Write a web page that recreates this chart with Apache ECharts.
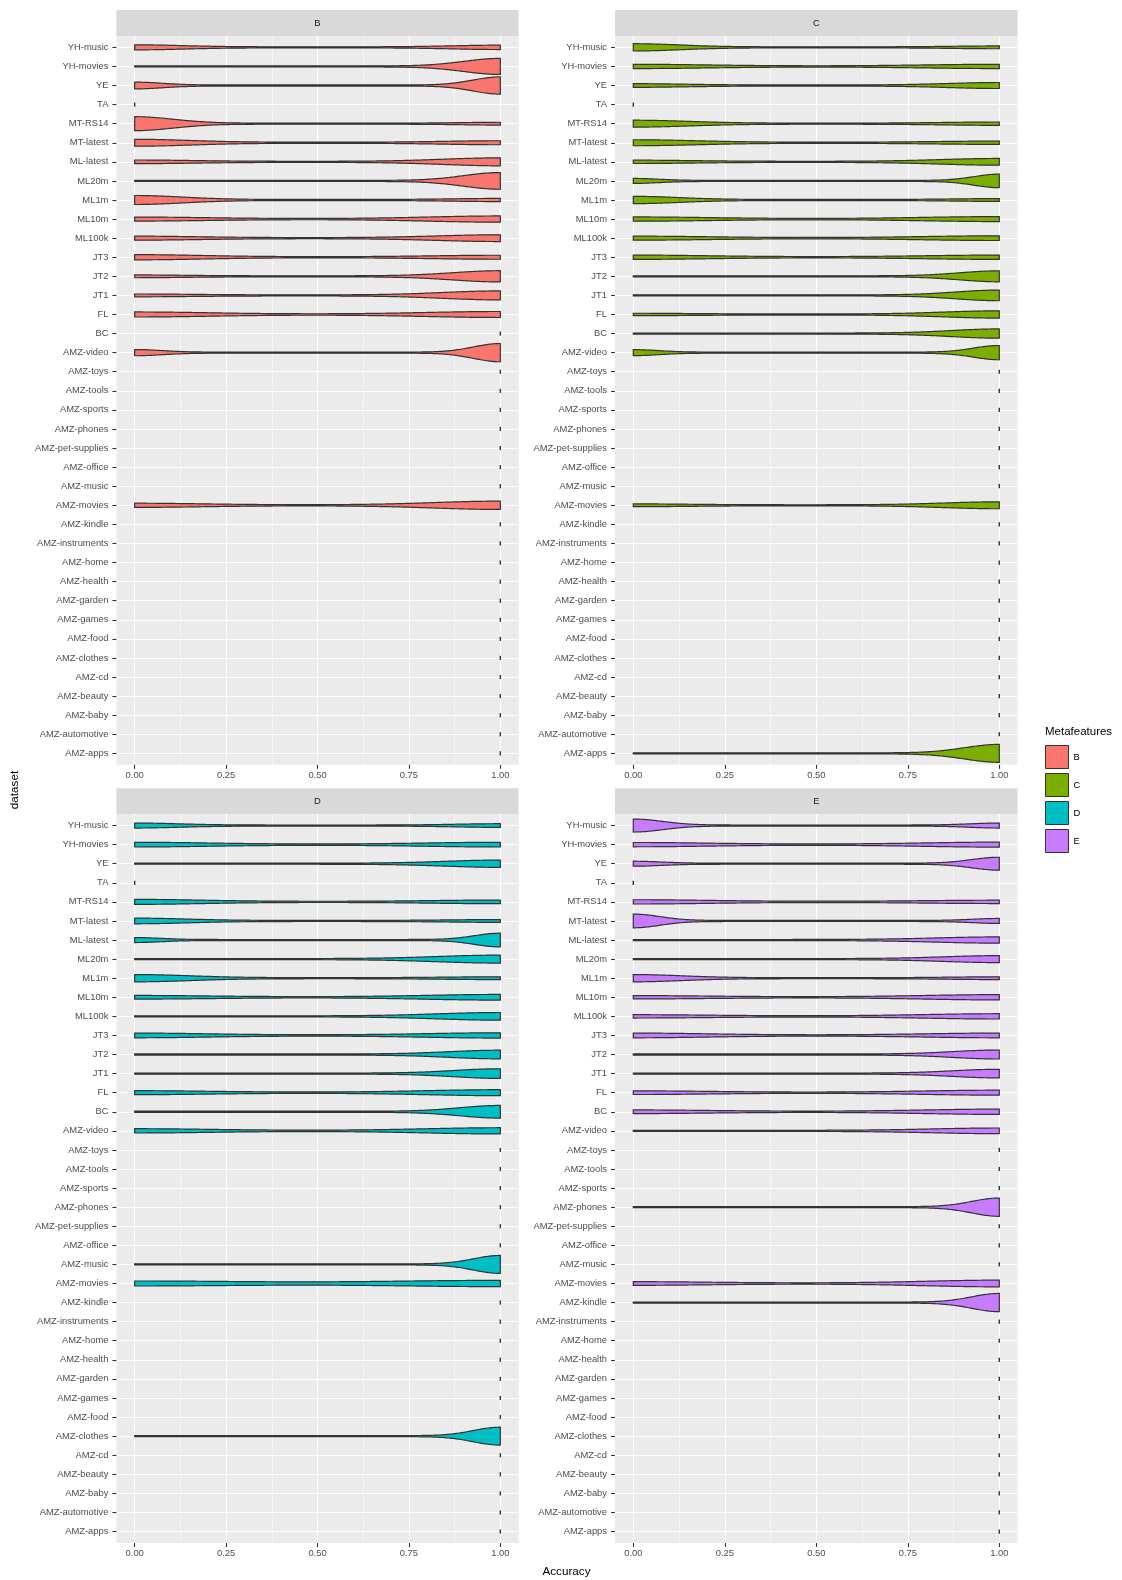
<!DOCTYPE html>
<html>
<head>
<meta charset="utf-8">
<script src="https://cdn.jsdelivr.net/npm/echarts@6/dist/echarts.min.js"></script>
<style>
  html, body { margin: 0; padding: 0; background: #ffffff; }
  #chart { width: 1122px; height: 1580px; }
</style>
</head>
<body>
<div id="chart"></div>
<script>
// Datasets, listed top to bottom as they appear on the y axis.
const datasets = ['YH-music', 'YH-movies', 'YE', 'TA', 'MT-RS14', 'MT-latest', 'ML-latest', 'ML20m',
  'ML1m', 'ML10m', 'ML100k', 'JT3', 'JT2', 'JT1', 'FL', 'BC', 'AMZ-video', 'AMZ-toys', 'AMZ-tools',
  'AMZ-sports', 'AMZ-phones', 'AMZ-pet-supplies', 'AMZ-office', 'AMZ-music', 'AMZ-movies', 'AMZ-kindle',
  'AMZ-instruments', 'AMZ-home', 'AMZ-health', 'AMZ-garden', 'AMZ-games', 'AMZ-food', 'AMZ-clothes',
  'AMZ-cd', 'AMZ-beauty', 'AMZ-baby', 'AMZ-automotive', 'AMZ-apps'];

const metafeatures = ['B', 'C', 'D', 'E'];
const accuracyTicks = [0, 0.25, 0.5, 0.75, 1];
const accuracyMinor = [0.125, 0.375, 0.625, 0.875];

// Per dataset: [relative density at accuracy 0, relative density at accuracy 1, kernel bandwidth].
// Bandwidth 0 means every run landed on the same accuracy (degenerate violin).
const violinsB = [
  [0.23, 0.19, 0.13], [0, 0.87, 0.10], [0.33, 0.94, 0.075], [1, 0, 0], [0.75, 0.10, 0.105],
  [0.34, 0.17, 0.15], [0.15, 0.40, 0.155], [0, 0.91, 0.10], [0.46, 0.12, 0.13], [0.17, 0.30, 0.19],
  [0.17, 0.33, 0.17], [0.24, 0.17, 0.18], [0.10, 0.59, 0.13], [0.10, 0.46, 0.155], [0.23, 0.285, 0.2],
  [0, 1, 0], [0.30, 1.0, 0.073], [0, 1, 0], [0, 1, 0], [0, 1, 0], [0, 1, 0], [0, 1, 0], [0, 1, 0],
  [0, 1, 0], [0.18, 0.42, 0.18], [0, 1, 0], [0, 1, 0], [0, 1, 0], [0, 1, 0], [0, 1, 0], [0, 1, 0],
  [0, 1, 0], [0, 1, 0], [0, 1, 0], [0, 1, 0], [0, 1, 0], [0, 1, 0], [0, 1, 0]
];
const violinsC = [
  [0.36, 0.10, 0.126], [0.186, 0.186, 0.2], [0.15, 0.285, 0.14], [1, 0, 0], [0.34, 0.13, 0.15],
  [0.285, 0.13, 0.17], [0.13, 0.33, 0.16], [0.227, 0.73, 0.068], [0.36, 0.10, 0.125], [0.186, 0.227, 0.2],
  [0.17, 0.21, 0.2], [0.186, 0.186, 0.2], [0, 0.576, 0.108], [0, 0.558, 0.117], [0.08, 0.36, 0.15],
  [0, 0.477, 0.13], [0.285, 0.767, 0.07], [0, 1, 0], [0, 1, 0], [0, 1, 0], [0, 1, 0], [0, 1, 0], [0, 1, 0],
  [0, 1, 0], [0.10, 0.34, 0.15], [0, 1, 0], [0, 1, 0], [0, 1, 0], [0, 1, 0], [0, 1, 0], [0, 1, 0],
  [0, 1, 0], [0, 1, 0], [0, 1, 0], [0, 1, 0], [0, 1, 0], [0, 1, 0], [0, 0.98, 0.095]
];
const violinsD = [
  [0.227, 0.15, 0.12], [0.21, 0.21, 0.2], [0, 0.36, 0.15], [1, 0, 0], [0.227, 0.15, 0.18],
  [0.267, 0.10, 0.14], [0.227, 0.733, 0.07], [0, 0.40, 0.17], [0.36, 0.10, 0.15], [0.15, 0.267, 0.2],
  [0, 0.384, 0.17], [0.21, 0.244, 0.2], [0, 0.44, 0.14], [0, 0.50, 0.125], [0.17, 0.285, 0.2],
  [0, 0.674, 0.11], [0.186, 0.30, 0.2], [0, 1, 0], [0, 1, 0], [0, 1, 0], [0, 1, 0], [0, 1, 0], [0, 1, 0],
  [0, 0.98, 0.073], [0.227, 0.30, 0.3], [0, 1, 0], [0, 1, 0], [0, 1, 0], [0, 1, 0], [0, 1, 0], [0, 1, 0],
  [0, 1, 0], [0, 0.98, 0.073], [0, 1, 0], [0, 1, 0], [0, 1, 0], [0, 1, 0], [0, 1, 0]
];
const violinsE = [
  [0.69, 0.227, 0.08], [0.186, 0.227, 0.2], [0.227, 0.69, 0.075], [1, 0, 0], [0.186, 0.13, 0.2],
  [0.733, 0.227, 0.072], [0, 0.30, 0.17], [0, 0.343, 0.15], [0.36, 0.10, 0.13], [0.13, 0.244, 0.2],
  [0.13, 0.244, 0.2], [0.21, 0.21, 0.2], [0, 0.46, 0.125], [0, 0.44, 0.125], [0.15, 0.227, 0.2],
  [0.15, 0.244, 0.2], [0, 0.267, 0.18], [0, 1, 0], [0, 1, 0], [0, 1, 0], [0, 1.0, 0.075], [0, 1, 0], [0, 1, 0],
  [0, 1, 0], [0.15, 0.326, 0.2], [0, 1.0, 0.075], [0, 1, 0], [0, 1, 0], [0, 1, 0], [0, 1, 0], [0, 1, 0],
  [0, 1, 0], [0, 1, 0], [0, 1, 0], [0, 1, 0], [0, 1, 0], [0, 1, 0], [0, 1, 0]
];

const panelViolins = [violinsB, violinsC, violinsD, violinsE];
const panelColors = ['#F8766D', '#7CAE00', '#00BFC4', '#C77CFF'];

const FONT = "'Liberation Sans', Arial, Helvetica, sans-serif";
const OUTLINE = '#333333';

// Panel layout (facet_wrap, 2 x 2)
const panels = [
  { left: 116.4, top: 35.9, width: 402.2, height: 728.9 },
  { left: 615.0, top: 35.9, width: 402.6, height: 728.9 },
  { left: 116.4, top: 814.1, width: 402.2, height: 728.9 },
  { left: 615.0, top: 814.1, width: 402.6, height: 728.9 }
];
const STRIP_H = 25.9;

const grids = [], xAxes = [], yAxes = [], series = [], graphics = [];

panels.forEach((p, i) => {
  grids.push({
    left: p.left, top: p.top, width: p.width, height: p.height,
    show: true, backgroundColor: '#EBEBEB', borderWidth: 0, containLabel: false
  });
  // major accuracy axis
  xAxes.push({
    gridIndex: i, type: 'value', min: -0.05, max: 1.05, position: 'bottom',
    axisLine: { show: false, onZero: false },
    axisTick: { show: true, customValues: accuracyTicks, length: 4, lineStyle: { color: OUTLINE, width: 1.1 } },
    axisLabel: {
      show: true, customValues: accuracyTicks, margin: 6,
      formatter: v => Number(v).toFixed(2), color: '#4D4D4D', fontSize: 9.4, fontFamily: FONT
    },
    splitLine: { show: true, lineStyle: { color: '#FFFFFF', width: 1.1 } }
  });
  // minor accuracy grid lines
  xAxes.push({
    gridIndex: i, type: 'value', min: -0.05, max: 1.05, position: 'top',
    axisLine: { show: false, onZero: false },
    axisTick: { show: false, customValues: accuracyMinor },
    axisLabel: { show: false, customValues: accuracyMinor },
    splitLine: { show: true, lineStyle: { color: '#FFFFFF', width: 0.55 } }
  });
  const idxs = datasets.map((_, k) => k);
  yAxes.push({
    gridIndex: i, type: 'value', inverse: true, min: -0.6, max: datasets.length - 0.4,
    position: 'left',
    axisLine: { show: false, onZero: false },
    axisTick: { show: true, customValues: idxs, length: 4, lineStyle: { color: OUTLINE, width: 1.1 } },
    axisLabel: {
      show: true, customValues: idxs, margin: 8,
      formatter: v => datasets[Math.round(v)], color: '#4D4D4D', fontSize: 9.4, fontFamily: FONT
    },
    splitLine: { show: true, lineStyle: { color: '#FFFFFF', width: 1.1 } }
  });

  const rows = panelViolins[i].map((v, k) => [k, v[0], v[1], v[2]]);
  series.push({
    name: metafeatures[i],
    type: 'custom',
    coordinateSystem: 'cartesian2d',
    xAxisIndex: i * 2,
    yAxisIndex: i,
    clip: false,
    itemStyle: { color: panelColors[i] },
    encode: { x: 1, y: 0 },
    data: rows,
    renderItem: (params, api) => {
      const k = api.value(0), d0 = api.value(1), d1 = api.value(2), bw = api.value(3);
      const fill = api.visual('color');
      if (!bw) {
        // all runs at one accuracy: a collapsed violin
        const x = d1 >= d0 ? 1 : 0;
        const a = api.coord([x, k - 0.11]);
        const b = api.coord([x, k + 0.11]);
        return {
          type: 'line',
          shape: { x1: a[0], y1: a[1], x2: b[0], y2: b[1] },
          style: { stroke: OUTLINE, lineWidth: 1.4 }
        };
      }
      const N = 240;
      const upper = [], lower = [];
      for (let s = 0; s <= N; s++) {
        const x = s / N;
        const dens = d0 * Math.exp(-0.5 * Math.pow(x / bw, 2)) +
                     d1 * Math.exp(-0.5 * Math.pow((1 - x) / bw, 2));
        const half = 0.45 * dens;
        const t = api.coord([x, k - half]);
        const b = api.coord([x, k + half]);
        upper.push([t[0], t[1] - 0.55]);
        lower.push([b[0], b[1] + 0.55]);
      }
      return {
        type: 'polygon',
        shape: { points: upper.concat(lower.reverse()) },
        style: { fill: fill, stroke: OUTLINE, lineWidth: 1.2, lineJoin: 'miter' }
      };
    }
  });

  // facet strip
  graphics.push({
    type: 'rect',
    shape: { x: p.left, y: p.top - STRIP_H, width: p.width, height: STRIP_H },
    style: { fill: '#D9D9D9' },
    silent: true
  });
  graphics.push({
    type: 'text',
    x: p.left + p.width / 2, y: p.top - STRIP_H / 2,
    style: {
      text: metafeatures[i], fill: '#1A1A1A', fontSize: 9.4, fontFamily: FONT,
      align: 'center', verticalAlign: 'middle'
    },
    silent: true
  });
});

// axis titles
graphics.push({
  type: 'text', x: 566.5, y: 1572,
  style: { text: 'Accuracy', fill: '#000000', fontSize: 11.7, fontFamily: FONT, align: 'center', verticalAlign: 'middle' }
});
graphics.push({
  type: 'text', x: 15, y: 790, rotation: Math.PI / 2,
  style: { text: 'dataset', fill: '#000000', fontSize: 11.7, fontFamily: FONT, align: 'center', verticalAlign: 'middle' }
});

const chart = echarts.init(document.getElementById('chart'), null, { renderer: 'canvas' });
chart.setOption({
  animation: false,
  backgroundColor: '#FFFFFF',
  title: {
    text: 'Metafeatures', left: 1045, top: 726, padding: 0,
    textStyle: { fontSize: 11.5, fontWeight: 'normal', color: '#000000', fontFamily: FONT }
  },
  legend: {
    data: metafeatures,
    orient: 'vertical', left: 1045, top: 745, padding: 0,
    itemWidth: 23, itemHeight: 23, itemGap: 4, icon: 'rect',
    itemStyle: { borderColor: OUTLINE, borderWidth: 1 },
    textStyle: { fontSize: 9.4, color: '#000000', fontFamily: FONT },
    selectedMode: false
  },
  grid: grids,
  xAxis: xAxes,
  yAxis: yAxes,
  series: series,
  graphic: graphics
});
</script>
</body>
</html>
